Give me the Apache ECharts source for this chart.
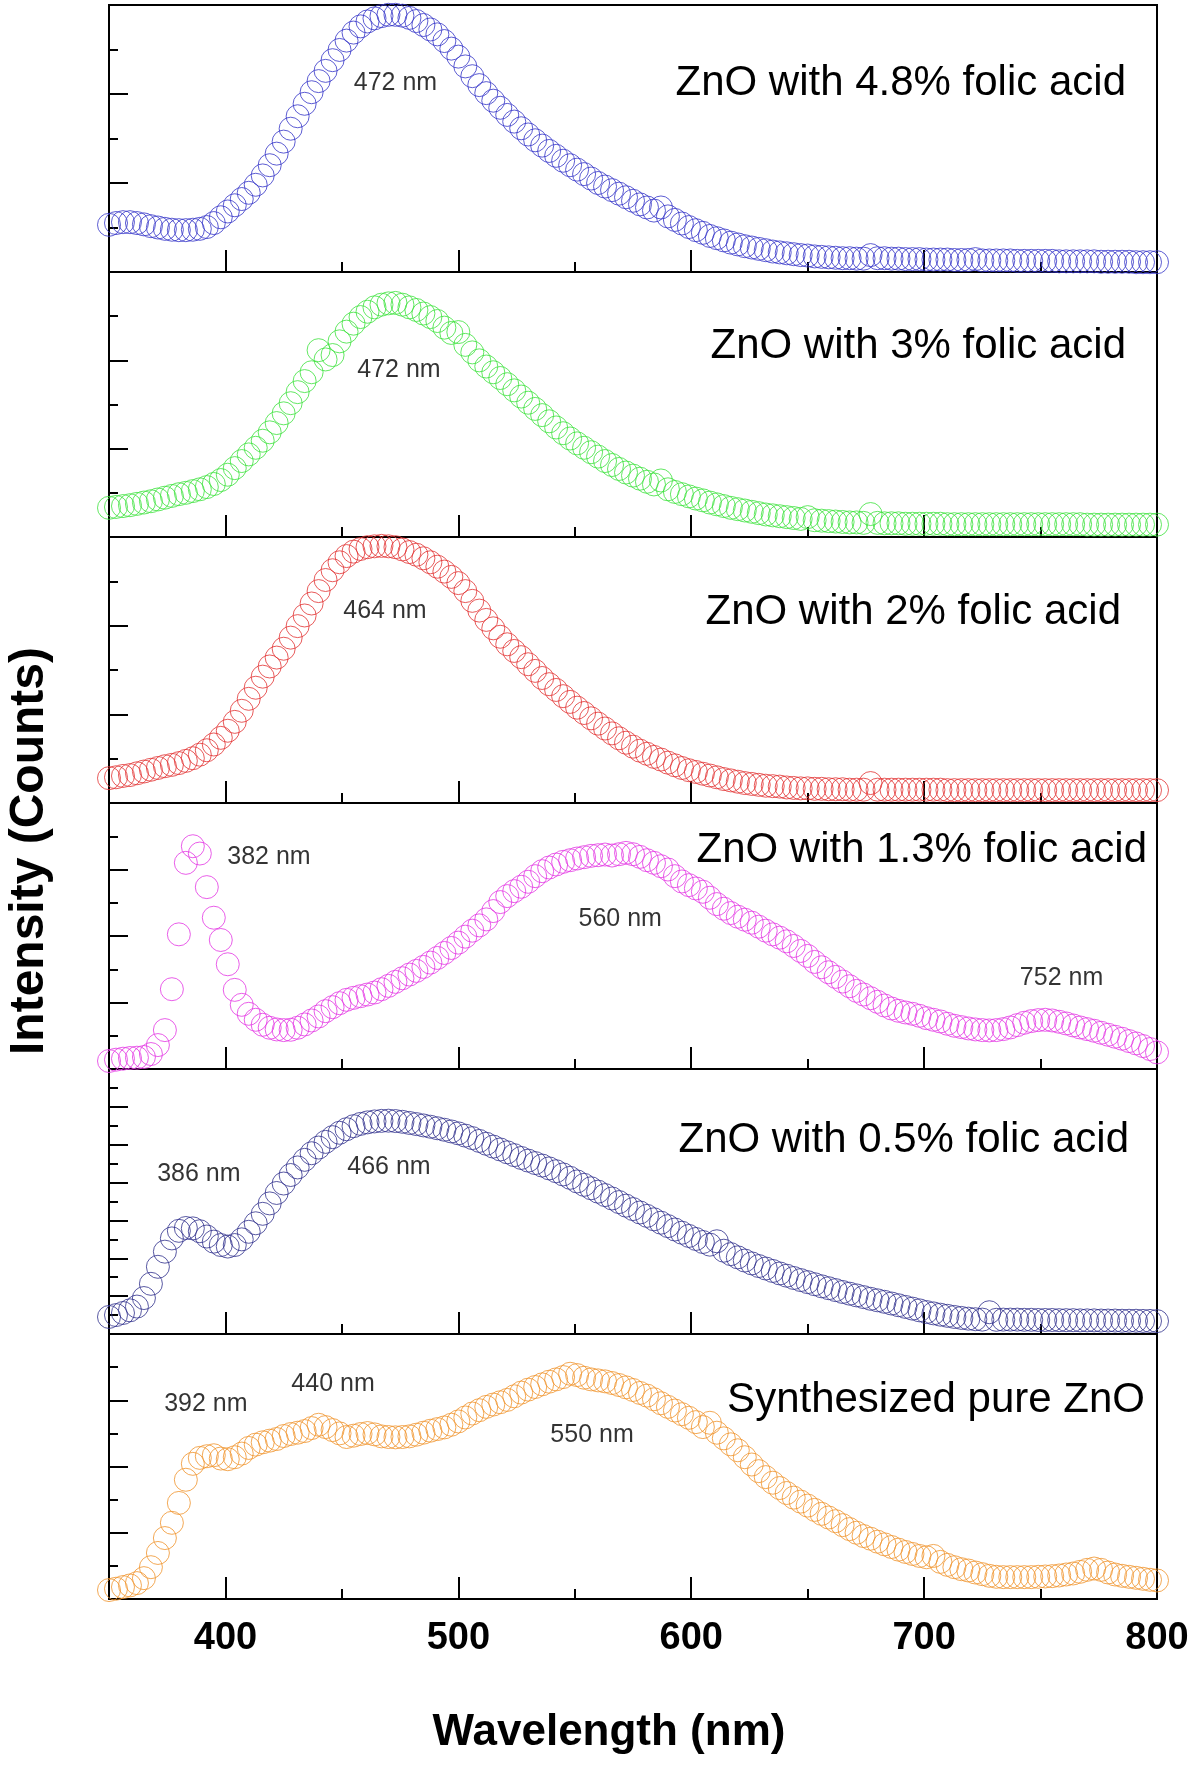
<!DOCTYPE html>
<html>
<head>
<meta charset="utf-8">
<script src="https://cdn.jsdelivr.net/npm/echarts@6/dist/echarts.min.js"></script>
<style>
html,body{margin:0;padding:0;background:#fff;}
#chart{width:1200px;height:1775px;}
</style>
</head>
<body>
<div id="chart"></div>
<script>
// ---------------- DATA ----------------
const wavelengths = [
350,353,356,359,362,365,368,371,374,377,
380,383,386,389,392,395,398,401,404,407,
410,413,416,419,422,425,428,431,434,437,
440,443,446,449,452,455,458,461,464,467,
470,473,476,479,482,485,488,491,494,497,
500,503,506,509,512,515,518,521,524,527,
530,533,536,539,542,545,548,551,554,557,
560,563,566,569,572,575,578,581,584,587,
590,593,596,599,602,605,608,611,614,617,
620,623,626,629,632,635,638,641,644,647,
650,653,656,659,662,665,668,671,674,677,
680,683,686,689,692,695,698,701,704,707,
710,713,716,719,722,725,728,731,734,737,
740,743,746,749,752,755,758,761,764,767,
770,773,776,779,782,785,788,791,794,797,
800];

const zno48 = [
10.6,11.0,11.2,11.2,11.0,10.7,10.3,10.0,9.7,9.5,
9.4,9.4,9.5,9.7,10.1,11.0,12.3,13.6,15.0,16.4,
17.8,19.6,21.7,24.0,26.6,29.3,32.2,35.0,37.8,40.4,
42.9,45.2,47.6,49.9,52.0,53.8,55.2,56.3,57.0,57.5,
57.8,57.8,57.6,57.1,56.4,55.5,54.5,53.4,51.9,50.2,
48.4,46.2,44.0,42.0,40.2,38.5,36.9,35.3,33.8,32.3,
30.9,29.6,28.4,27.2,26.1,25.0,24.0,23.0,22.0,21.0,
20.0,19.2,18.4,17.6,16.8,16.0,15.2,14.5,13.8,14.5,
12.5,11.7,10.9,10.1,9.4,8.8,8.1,7.6,7.1,6.6,
6.2,5.8,5.5,5.2,4.9,4.6,4.4,4.2,4.0,3.8,
3.7,3.5,3.4,3.3,3.2,3.1,3.1,3.0,3.0,3.8,
3.1,3.1,3.0,3.0,2.9,2.9,2.9,2.8,2.8,2.8,
2.8,2.7,2.7,2.7,2.9,2.6,2.6,2.6,2.6,2.6,
2.5,2.5,2.5,2.5,2.5,2.5,2.4,2.4,2.4,2.4,
2.4,2.4,2.3,2.3,2.3,2.3,2.3,2.2,2.2,2.2,
2.2];

const zno30 = [
6.6,6.8,7.0,7.2,7.5,7.8,8.1,8.5,8.9,9.3,
9.7,10.0,10.4,10.8,11.3,12.0,12.9,14.1,15.6,17.2,
18.7,20.2,21.8,23.7,25.8,28.0,30.3,32.8,35.3,37.3,
42.3,40.2,41.2,44.3,46.5,48.3,49.8,51.0,52.0,52.6,
52.9,53.0,52.6,52.0,51.4,50.6,49.8,48.9,47.4,46.2,
46.4,43.5,41.8,40.0,38.6,37.3,36.0,34.6,33.2,31.8,
30.4,29.0,27.6,26.2,24.8,23.5,22.3,21.2,20.2,19.2,
18.2,17.2,16.3,15.4,14.6,13.9,13.2,12.5,11.9,12.8,
10.8,10.2,9.7,9.2,8.7,8.3,7.8,7.4,7.0,6.6,
6.3,6.0,5.7,5.4,5.1,4.9,4.7,4.5,4.3,4.1,
4.5,3.8,3.7,3.6,3.5,3.4,3.3,3.3,3.2,5.2,
3.2,3.1,3.1,3.1,3.0,3.0,3.0,3.0,3.0,3.0,
2.9,2.9,2.9,2.9,2.9,2.9,2.9,2.9,2.9,2.9,
2.9,2.9,2.9,2.9,2.9,2.9,2.9,2.9,2.9,2.9,
2.8,2.8,2.8,2.8,2.8,2.8,2.8,2.8,2.8,2.8,
2.8];

const zno20 = [
5.6,5.8,6.1,6.3,6.7,7.1,7.5,7.9,8.3,8.6,
9.0,9.5,10.1,10.9,11.9,13.2,14.7,16.3,18.3,20.8,
23.5,26.0,28.5,30.8,32.8,34.8,37.3,39.9,42.3,45.0,
47.8,50.3,52.5,54.3,55.7,56.7,57.3,57.7,57.9,58.0,
57.9,57.7,57.2,56.6,56.0,55.2,54.3,53.3,52.2,51.0,
49.6,47.8,45.6,43.4,41.3,39.4,37.5,35.8,34.3,32.9,
31.3,29.8,28.2,26.8,25.5,24.1,22.8,21.5,20.3,19.1,
17.9,16.8,15.7,14.6,13.6,12.7,11.8,11.1,10.4,9.8,
9.1,8.5,7.9,7.4,7.0,6.6,6.2,5.8,5.4,5.1,
4.8,4.5,4.3,4.1,3.9,3.8,3.7,3.5,3.4,3.3,
3.3,3.2,3.2,3.1,3.1,3.1,3.0,3.0,3.0,4.5,
3.0,3.0,3.0,3.0,3.0,3.0,3.0,3.0,3.0,3.0,
2.9,2.9,2.9,2.9,2.9,2.9,2.9,2.9,2.9,2.9,
2.9,2.9,2.9,2.9,2.9,2.9,2.9,2.9,2.9,2.9,
2.9,2.9,2.9,2.9,2.9,2.9,2.9,2.9,2.9,2.9,
2.9];

const zno13 = [
2.4,2.8,3.1,3.3,3.4,3.6,4.5,7.2,11.7,24.0,
40.5,62.0,67.0,64.8,54.7,45.5,38.8,31.5,23.8,19.3,
16.6,14.8,13.3,12.4,11.9,11.7,11.8,12.4,13.4,14.6,
15.8,17.4,18.6,19.8,20.8,21.4,21.9,22.4,23.0,24.0,
25.0,26.2,27.3,28.4,29.5,30.7,32.0,33.4,34.9,36.4,
38.0,39.8,41.6,43.2,45.0,47.5,50.2,52.0,53.5,54.8,
56.3,58.0,59.5,60.6,61.5,62.3,62.8,63.3,63.7,64.1,
64.3,64.5,64.2,64.6,65.0,64.6,63.8,62.8,62.0,61.0,
60.0,58.0,56.4,55.3,54.3,53.3,51.5,49.6,48.2,46.9,
45.8,44.9,44.0,42.8,41.6,40.5,39.5,38.4,37.0,35.5,
34.0,32.2,30.6,29.1,27.7,26.3,24.9,23.5,22.4,21.3,
20.2,19.1,18.2,17.5,17.0,16.6,16.0,15.3,14.8,14.3,
13.6,13.0,12.6,12.2,11.9,11.7,11.6,11.7,12.0,12.5,
13.2,13.9,14.4,14.7,14.8,14.6,14.2,13.7,13.1,12.5,
12.0,11.5,10.9,10.3,9.7,9.1,8.4,7.7,6.9,6.0,
5.0];

const zno05 = [
9.0,10.0,11.1,12.5,14.5,19.0,26.5,35.5,43.5,50.5,
54.5,56.0,55.8,54.3,51.5,48.8,47.0,46.2,47.0,50.0,
54.0,58.5,63.5,69.0,74.5,79.5,84.0,88.0,92.0,95.5,
98.5,101.5,104.0,106.3,108.2,109.8,111.0,111.8,112.3,112.6,
112.7,112.5,112.1,111.5,110.9,110.2,109.5,108.7,107.9,107.0,
106.0,104.8,103.5,102.0,100.5,99.0,97.5,96.0,94.5,93.0,
91.6,90.3,89.0,87.5,86.0,84.3,82.5,80.6,78.8,77.0,
75.2,73.4,71.6,69.7,67.8,66.0,64.2,62.4,60.6,58.8,
57.0,55.2,53.5,51.8,50.2,48.6,47.2,49.0,44.0,42.2,
40.5,38.8,37.3,35.9,34.6,33.3,32.0,30.8,29.6,28.5,
27.4,26.3,25.2,24.2,23.2,22.2,21.3,20.4,19.5,18.6,
17.8,17.0,16.1,15.2,14.3,13.4,12.5,11.6,10.9,10.2,
9.6,9.0,8.5,8.1,7.8,7.6,11.5,7.5,7.6,7.6,
7.6,7.5,7.5,7.4,7.4,7.4,7.3,7.3,7.3,7.2,
7.2,7.2,7.1,7.1,7.1,7.0,7.0,7.0,6.9,6.9,
6.8];

const znoPure = [
2.7,3.1,3.6,4.1,4.8,6.3,9.6,13.9,18.4,23.0,
29.0,36.0,40.8,42.6,43.1,43.4,42.4,42.2,42.8,43.9,
45.6,46.6,47.3,47.8,48.3,49.2,49.8,50.2,50.7,51.6,
52.6,51.9,51.0,50.0,48.9,49.3,49.8,50.1,49.7,49.1,
48.9,48.8,48.9,49.1,49.6,50.2,50.8,51.3,51.8,52.6,
53.6,54.8,56.0,57.0,58.0,58.7,59.4,60.1,61.2,62.3,
63.2,64.0,64.8,65.6,66.3,67.0,68.0,67.6,66.8,66.3,
66.0,65.7,65.2,64.6,63.9,63.1,62.2,61.4,60.3,59.1,
58.0,56.9,55.8,54.7,53.4,51.9,53.2,50.2,48.5,46.7,
44.9,42.8,40.6,38.6,36.8,35.1,33.5,32.0,30.6,29.4,
28.2,26.9,25.7,24.6,23.5,22.3,21.1,20.0,19.0,18.2,
17.3,16.5,15.7,14.9,14.2,13.6,13.0,12.6,13.0,11.2,
10.3,9.6,9.0,8.6,8.0,7.5,7.0,6.7,6.6,6.6,
6.6,6.6,6.6,6.7,6.8,6.9,7.1,7.4,7.7,8.2,
8.8,9.2,8.8,8.0,7.4,7.0,6.7,6.4,6.1,5.8,
5.6];

const panelNames = [
  'ZnO with 4.8% folic acid',
  'ZnO with 3% folic acid',
  'ZnO with 2% folic acid',
  'ZnO with 1.3% folic acid',
  'ZnO with 0.5% folic acid',
  'Synthesized pure ZnO'
];

// peak annotations: [wavelength, intensity, text] per panel
const peaks48 = [[473, 42.5, '472 nm']];
const peaks30 = [[474.5, 37.8, '472 nm']];
const peaks20 = [[468.5, 43.3, '464 nm']];
const peaks13 = [[418.7, 63.8, '382 nm'], [569.5, 45.2, '560 nm'], [759, 27.4, '752 nm']];
const peaks05 = [[388.6, 84.5, '386 nm'], [470.2, 88.2, '466 nm']];
const peaksPure = [[391.6, 58.9, '392 nm'], [446.2, 64.9, '440 nm'], [557.4, 49.5, '550 nm']];

const yMaxes = [60, 60, 60, 80, 140, 80];
const xMajorTicks = [400, 500, 600, 700, 800];

// ---------------- LAYOUT / STYLE ----------------
const seriesValues = [zno48, zno30, zno20, zno13, zno05, znoPure];
const peakSets = [peaks48, peaks30, peaks20, peaks13, peaks05, peaksPure];
const colors = ['#3434c8', '#3ce23c', '#e23232', '#e436e4', '#2f2f8c', '#f0942c'];
const panelTops = [5, 272, 537, 803, 1069, 1334];
const plotBottom = 1599;
const plotLeft = 109, plotWidth = 1048;
const titleRight = [1126, 1126, 1121, 1147, 1129, 1145];
const titleY = [83, 346, 612, 850, 1140, 1400];
const FONT = '"Liberation Sans", Arial, Helvetica, sans-serif';

const grids = [], xAxes = [], yAxes = [], series = [];
for (let i = 0; i < 6; i++) {
  const top = panelTops[i];
  const bottom = i < 5 ? panelTops[i + 1] : plotBottom;
  grids.push({
    left: plotLeft, width: plotWidth, top: top, height: bottom - top,
    show: true, borderColor: '#000', borderWidth: 2, backgroundColor: 'transparent'
  });
  const tickStyle = { color: '#000', width: 2 };
  // minor ticks every 50 nm (and labels for bottom panel)
  xAxes.push({
    gridIndex: i, type: 'value', position: 'bottom', min: 350, max: 800, interval: 50,
    axisLine: { show: false }, splitLine: { show: false },
    axisTick: { show: true, inside: true, length: 10, lineStyle: tickStyle },
    axisLabel: {
      show: i === 5, margin: 21, color: '#000', fontSize: 38, fontWeight: 'bold', fontFamily: FONT,
      formatter: function (v) { return xMajorTicks.indexOf(v) >= 0 ? String(v) : ''; }
    }
  });
  // major ticks every 100 nm
  xAxes.push({
    gridIndex: i, type: 'value', position: 'bottom', min: 350, max: 800, interval: 50,
    axisLine: { show: false }, splitLine: { show: false },
    axisTick: { show: true, inside: true, length: 22, lineStyle: tickStyle, customValues: xMajorTicks },
    axisLabel: { show: false }
  });
  yAxes.push({
    gridIndex: i, type: 'value', position: 'left', min: 0, max: yMaxes[i], interval: 20,
    axisLine: { show: false }, splitLine: { show: false }, minorSplitLine: { show: false },
    axisTick: { show: true, inside: true, length: 19, lineStyle: tickStyle },
    minorTick: { show: true, splitNumber: 2, length: 9, lineStyle: tickStyle },
    axisLabel: { show: false }
  });
  const vals = seriesValues[i];
  series.push({
    type: 'scatter', xAxisIndex: 2 * i, yAxisIndex: i, silent: true, clip: true,
    symbol: 'circle', symbolSize: 23,
    itemStyle: { color: 'rgba(0,0,0,0)', borderColor: colors[i], borderWidth: 1 },
    data: wavelengths.map(function (w, j) { return [w, vals[j]]; }),
    z: 2
  });
  series.push({
    type: 'scatter', xAxisIndex: 2 * i, yAxisIndex: i, silent: true, clip: false,
    symbol: 'circle', symbolSize: 1,
    itemStyle: { color: 'rgba(0,0,0,0)' },
    label: {
      show: true, position: 'inside', color: '#000', fontSize: 25, fontFamily: FONT,
      formatter: function (p) { return p.data[2]; }
    },
    data: peakSets[i],
    z: 5
  });
}

const graphics = panelNames.map(function (t, i) {
  return {
    type: 'text', x: titleRight[i], y: titleY[i], z: 10,
    style: { text: t, fontSize: 42, fontFamily: FONT, fill: '#000', align: 'right', verticalAlign: 'middle' }
  };
});
graphics.push({
  type: 'text', x: 609, y: 1733, z: 10,
  style: { text: 'Wavelength (nm)', fontSize: 44, fontWeight: 'bold', fontFamily: FONT, fill: '#000', align: 'center', verticalAlign: 'middle' }
});
graphics.push({
  type: 'text', x: 30, y: 851, rotation: Math.PI / 2, z: 10,
  style: { text: 'Intensity (Counts)', fontSize: 48, fontWeight: 'bold', fontFamily: FONT, fill: '#000', align: 'center', verticalAlign: 'middle' }
});

const chart = echarts.init(document.getElementById('chart'), null, { renderer: 'canvas' });
chart.setOption({
  animation: false,
  backgroundColor: '#fff',
  textStyle: { fontFamily: FONT },
  grid: grids,
  xAxis: xAxes,
  yAxis: yAxes,
  series: series,
  graphic: graphics
});
</script>
</body>
</html>
